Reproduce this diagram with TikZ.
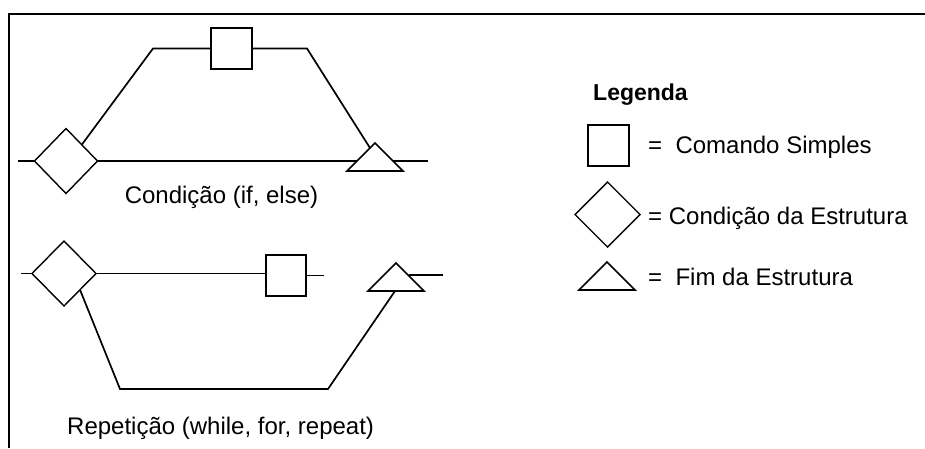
\documentclass[tikz,border=0pt]{standalone}
\usepackage{fontspec}
\setmainfont{Liberation Sans}
\usetikzlibrary{shapes.geometric}
\tikzset{
  ln/.style={line width=1.7pt},
  frame/.style={line width=2.2pt},
  dia/.style={draw, shape=diamond, line width=1.4pt, inner sep=0pt, outer sep=0pt, minimum width=64pt, minimum height=65pt},
  sqbox/.style={draw, rectangle, line width=2pt, inner sep=0pt, outer sep=0pt, minimum width=41pt, minimum height=41pt},
  tri/.style={line width=1.6pt, line join=miter},
  txt/.style={font=\fontsize{24}{28}\selectfont, inner sep=0pt},
  bold/.style={font=\fontsize{23}{27}\selectfont\bfseries, inner sep=0pt}
}
\begin{document}
\begin{tikzpicture}[x=1pt,y=-1pt]
\useasboundingbox (0,0) rectangle (925,448);
\fill[white] (0,0) rectangle (925,448);
% frame (top and left)
\draw[frame] (8,14.3) -- (925,14.3);
\draw[frame] (9,13.3) -- (9,448);

% ---------- Condição (if, else) ----------
\node[dia, minimum width=63pt] (d1) at (66,161) {};
\node[sqbox] (s1) at (231.5,48.5) {};
\coordinate (t1a) at (375,143);
\coordinate (t1l) at (347,171);
\coordinate (t1r) at (403,171);
\draw[tri] (t1a) -- (t1l) -- (t1r) -- cycle;
\coordinate (in1) at (18,161);
\coordinate (t1lm) at (357,161);
\coordinate (t1rm) at (393,161);
\coordinate (out1) at (428,161);
\coordinate (b1a) at (153,48.5);
\coordinate (b1b) at (307,48.5);
\coordinate (t1in) at (370,148);
\draw[ln] (in1) -- (d1.west);
\draw[ln] (d1.east) -- (t1lm);
\draw[ln] (t1rm) -- (out1);
\draw[ln] (d1.north east) -- (b1a) -- (s1.west);
\draw[ln] (s1.east) -- (b1b) -- (t1in);
\node[txt, anchor=base] (c1) at (221.5,203) {Condição (if, else)};

% ---------- Repetição (while, for, repeat) ----------
\node[dia] (d2) at (64,273.5) {};
\node[sqbox, minimum width=40pt] (s2) at (286,275.5) {};
\coordinate (t2a) at (396,263);
\coordinate (t2l) at (368,291);
\coordinate (t2r) at (424,291);
\draw[tri] (t2a) -- (t2l) -- (t2r) -- cycle;
\coordinate (in2) at (21,273.5);
\coordinate (out2a) at (324,275.5);
\coordinate (t2rm) at (409,275);
\coordinate (out2b) at (443,275);
\coordinate (b2a) at (120,389);
\coordinate (b2b) at (328,389);
\coordinate (t2b) at (395,291);
\draw[ln] (in2) -- (d2.west);
\draw[ln] (d2.east) -- (d2.east -| s2.west);
\draw[ln] (s2.east) -- (out2a);
\draw[ln] (t2rm) -- (out2b);
\draw[ln] (d2.south east) -- (b2a) -- (b2b) -- (t2b);
\node[txt, anchor=base west] (c2) at (67,434) {Repetição (while, for, repeat)};

% ---------- Legenda ----------
\node[bold, anchor=base west] (lg) at (593,100) {Legenda};
\node[sqbox] (ls) at (608.5,145.5) {};
\node[txt, anchor=base west] (l1) at (648,153) {=\ \ Comando Simples};
\node[dia, minimum width=65pt] (ld) at (607.5,214.5) {};
\node[txt, anchor=base west] (l2) at (648,224) {= Condição da Estrutura};
\coordinate (lta) at (607,262);
\coordinate (ltl) at (579,290);
\coordinate (ltr) at (635,290);
\draw[tri] (lta) -- (ltl) -- (ltr) -- cycle;
\node[txt, anchor=base west] (l3) at (648,285) {=\ \ Fim da Estrutura};
\end{tikzpicture}
\end{document}
